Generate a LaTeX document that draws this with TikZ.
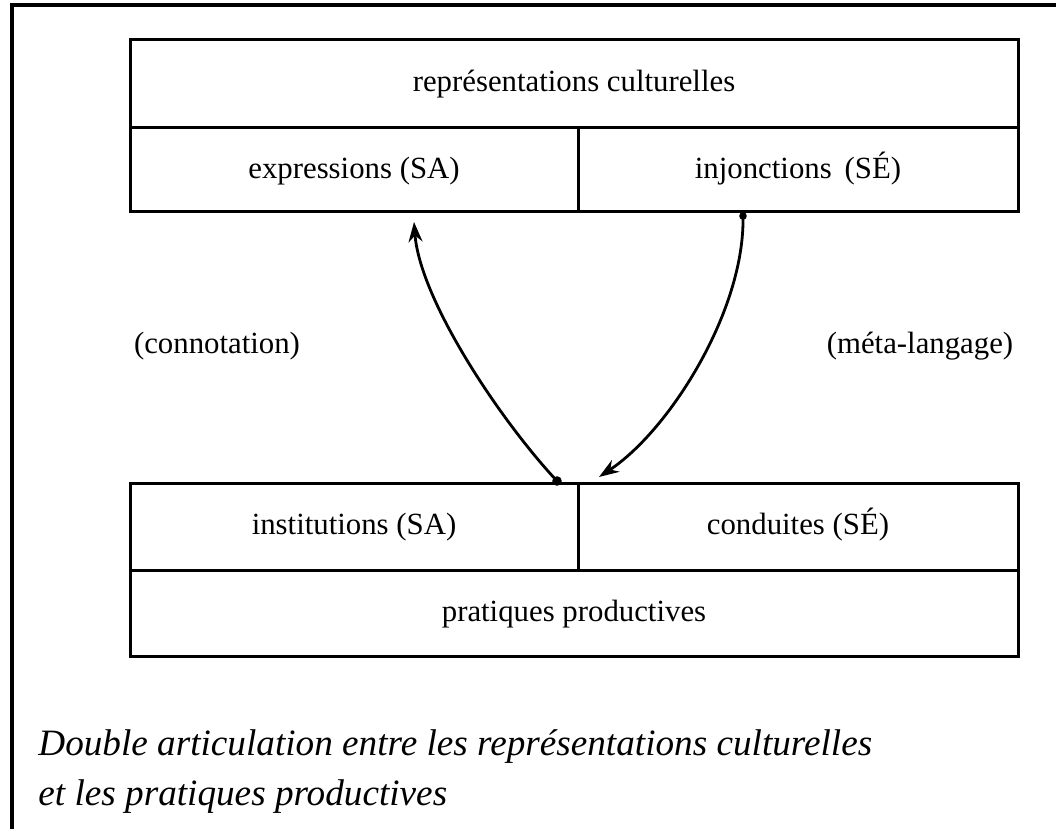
\documentclass[tikz,border=0pt]{standalone}
\usepackage{fontspec}
\setmainfont{Liberation Serif}
\usetikzlibrary{calc,arrows.meta}
\tikzset{
  cell/.style={draw, line width=1.5pt, rectangle, inner sep=0pt, outer sep=0pt, anchor=north west, text height=11pt, text depth=3pt, font=\fontsize{15.4pt}{18pt}\selectfont},
  lbl/.style={inner sep=0pt, text height=11pt, text depth=3pt, font=\fontsize{15.4pt}{18pt}\selectfont},
  captext/.style={inner sep=0pt, anchor=base west, font=\fontsize{18.6pt}{22pt}\selectfont\itshape},
  arr/.style={line width=1.4pt, -{Stealth[length=10pt,width=7pt]}},
}
\begin{document}
\begin{tikzpicture}[x=0.5pt,y=-0.5pt]
\useasboundingbox (0,0) rectangle (1056,829);
% outer frame
\coordinate (fb) at (12,829);
\coordinate (fc) at (12,5);
\coordinate (fr) at (1056,5);
\draw[line width=2pt] (fb) -- (fc) -- (fr);
% top boxes
\node[cell, minimum width=444pt, minimum height=44pt] (rc) at (130,40) {représentations culturelles};
\node[cell, minimum width=224pt, minimum height=42pt] (expr) at (130,128) {expressions (SA)};
\node[cell, minimum width=220pt, minimum height=42pt] (inj) at (578,128) {injonctions\, (SÉ)};
% bottom boxes
\node[cell, minimum width=224pt, minimum height=43.5pt] (inst) at (130,483) {institutions (SA)};
\node[cell, minimum width=220pt, minimum height=43.5pt] (cond) at (578,483) {conduites (SÉ)};
\node[cell, minimum width=444pt, minimum height=43pt] (prat) at (130,570) {pratiques productives};
% side labels
\node[lbl] (conn) at (217,345) {(connotation)};
\node[lbl] (meta) at (920,345) {(méta-langage)};
% arrows
\coordinate (ls) at ($(inst.north east)+(-21,-2)$);
\coordinate (le) at ($(expr.south west)+(284,10)$);
\coordinate (rs) at ($(inj.south west)+(165,4)$);
\coordinate (re) at ($(cond.north west)+(21,-6)$);
\draw[arr] (ls) .. controls (500,420) and (420,300) .. (le);
\fill (ls) circle[radius=2.4pt];
\draw[arr] (rs) .. controls (745,310) and (670,430) .. (re);
\fill (rs) circle[radius=1.9pt];
% caption
\node[captext] (cap1) at (38,755) {Double articulation entre les représentations culturelles};
\node[captext] (cap2) at (38,805) {et les pratiques productives};
\end{tikzpicture}
\end{document}
